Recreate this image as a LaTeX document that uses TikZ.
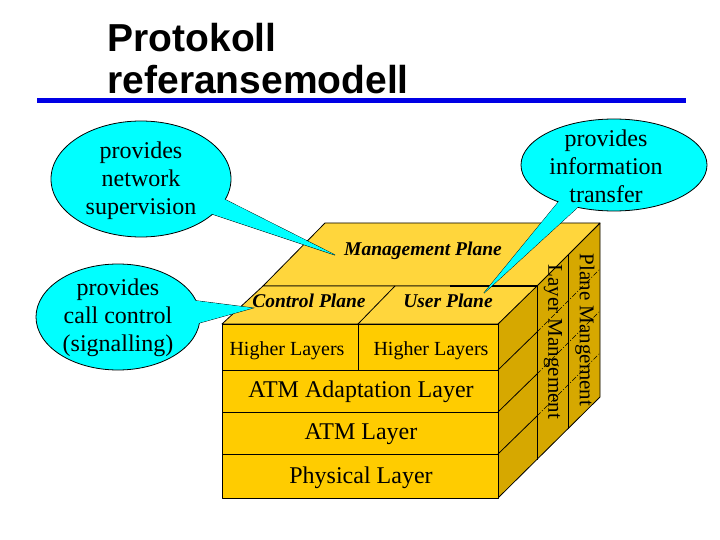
\documentclass[tikz,border=0pt]{standalone}
\usepackage{fontspec}
\setmainfont{Liberation Serif}
\newfontfamily\titlefont{Liberation Sans}
\definecolor{cy}{RGB}{0,255,255}
\definecolor{frontc}{RGB}{255,204,0}
\definecolor{topc}{RGB}{255,214,60}
\definecolor{sidec}{RGB}{214,168,0}
\begin{document}
\begin{tikzpicture}[x=1pt,y=-1pt,
  edge/.style={draw=black,line width=0.8pt,line join=round},
  lay/.style={font=\fontsize{24}{26}\selectfont},
  plane/.style={font=\fontsize{19.5}{21}\selectfont\bfseries\itshape},
  call/.style={align=center,font=\fontsize{24}{28}\selectfont},
  bub/.style={fill=cy,draw=black,line width=0.8pt}]
\useasboundingbox (0,0) rectangle (720,540);
% title
\node[anchor=west,font=\titlefont\bfseries\fontsize{39}{42}\selectfont,align=left] (title) at (104,59) {Protokoll\\referansemodell};
\fill[blue!90!black] (37,98) rectangle (686,103);
% cube
\filldraw[edge,fill=sidec] (498,324) -- (600,223) -- (600,397) -- (498,498) -- cycle;
\filldraw[edge,fill=topc] (263,286) -- (537,286) -- (600,223) -- (325,223) -- cycle;
\filldraw[edge,fill=topc] (222,324) -- (498,324) -- (537,286) -- (263,286) -- cycle;
\draw[edge] (358,324) -- (395,286);
\draw[edge,line width=1.4pt] (450,286) -- (537,286);
\filldraw[edge,fill=frontc] (222,324) rectangle (498,498);
\draw[edge] (222,370) -- (498,370) (222,412) -- (498,412) (222,454) -- (498,454) (358,324) -- (358,370);
\draw[edge] (537,286) -- (537,460) (568,255) -- (568,429);
\foreach \y in {370,412,454}{
  \draw[edge] (498,\y) -- (537,\y-38);
  \draw[black,line width=0.6pt,dash pattern=on 5pt off 2pt on 1pt off 2pt] (537,\y-38) -- (600,\y-101);}
% callouts
\def\bubble#1#2#3#4#5#6{%
 \filldraw[bub] #1 -- #2 -- #3 -- cycle;
 \filldraw[bub] #4 ellipse [x radius=#5, y radius=#6];
 \fill[cy] #1 -- #2 -- #3 -- cycle;}
\bubble{(200,210)}{(218,196)}{(335,255)}{(141,179)}{90}{58}
\bubble{(560,200)}{(590,196)}{(484,293)}{(614,165)}{93}{46}
\bubble{(190,300)}{(192,325)}{(253,308)}{(118,317)}{82}{53}
\node[call] (net) at (141,181) {provides\\network\\supervision};
\node[call] (info) at (606,166) {provides\\information\\transfer};
\node[call] (cc) at (118,318) {provides\\call control\\(signalling)};
% labels
\node[plane] (mp) at (423,251) {Management Plane};
\node[plane] (cp) at (309,301) {Control Plane};
\node[plane] (up) at (448,301) {User Plane};
\node[font=\fontsize{20}{22}\selectfont] (hl1) at (287,351) {Higher Layers};
\node[font=\fontsize{20}{22}\selectfont] (hl2) at (431,351) {Higher Layers};
\node[lay] (aal) at (361,392) {ATM Adaptation Layer};
\node[lay] (atm) at (361,434) {ATM Layer};
\node[lay] (phy) at (361,478) {Physical Layer};
\node[rotate=-90,font=\fontsize{21}{23}\selectfont] (pm) at (585,330) {Plane Mangement};
\node[rotate=-90,font=\fontsize{21}{23}\selectfont] (lm) at (553,342) {Layer Mangement};
\end{tikzpicture}
\end{document}
